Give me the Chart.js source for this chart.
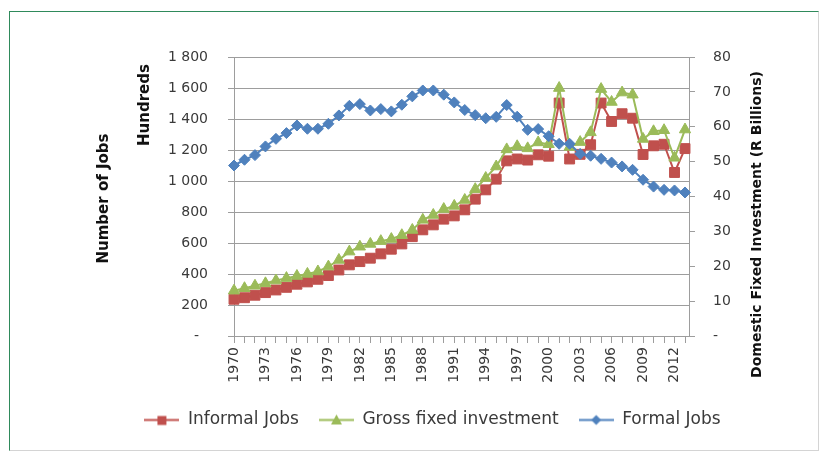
<!DOCTYPE html>
<html lang="en">
<head>
<meta charset="UTF-8">
<title>Informal Jobs, Formal Jobs and Gross Fixed Investment</title>
<script src="https://cdn.jsdelivr.net/npm/chart.js"></script>
<style>
  body { margin: 0; background: #fff; }
  #wrap { position: relative; width: 825px; height: 456px; }
  #jobsChart { display: block; }
  #frame {
    position: absolute; left: 9px; top: 11px; width: 808px; height: 438px;
    border-left: 1px solid #2f8a5b; border-top: 1px solid #2f8a5b;
    border-right: 1px solid #d4d4d4; border-bottom: 1px solid #d4d4d4;
    pointer-events: none;
  }
</style>
</head>
<body>
<div id="wrap">
  <canvas id="jobsChart" width="825" height="456"></canvas>
  <div id="frame"></div>
</div>
<script>
const years = [1970, 1971, 1972, 1973, 1974, 1975, 1976, 1977, 1978, 1979,
               1980, 1981, 1982, 1983, 1984, 1985, 1986, 1987, 1988, 1989,
               1990, 1991, 1992, 1993, 1994, 1995, 1996, 1997, 1998, 1999,
               2000, 2001, 2002, 2003, 2004, 2005, 2006, 2007, 2008, 2009,
               2010, 2011, 2012, 2013];

// hundreds of jobs (left axis)
const informalJobs = [237, 247, 263, 280, 297, 314, 334, 349, 366, 390,
                      426, 459, 480, 502, 530, 560, 594, 641, 685, 717,
                      754, 775, 814, 883, 943, 1012, 1130, 1142, 1135, 1169,
                      1160, 1503, 1142, 1172, 1234, 1503, 1384, 1434, 1405, 1171,
                      1227, 1237, 1055, 1209];

const formalJobs = [1100, 1137, 1167, 1223, 1272, 1309, 1358, 1337, 1337, 1369,
                    1423, 1485, 1496, 1455, 1464, 1449, 1492, 1546, 1584, 1584,
                    1557, 1507, 1458, 1425, 1405, 1414, 1490, 1415, 1330, 1335,
                    1289, 1240, 1240, 1175, 1163, 1143, 1119, 1094, 1072, 1008,
                    964, 943, 939, 926];

// R billions (right axis)
const grossInvestment = [13.0, 13.7, 14.4, 15.1, 15.9, 16.6, 17.2, 17.8, 18.5, 19.9,
                         21.8, 24.2, 25.6, 26.4, 27.2, 27.8, 28.9, 30.4, 33.3, 34.7,
                         36.4, 37.3, 39.0, 42.1, 45.3, 48.6, 53.5, 54.4, 53.8, 55.5,
                         55.0, 71.1, 54.2, 55.6, 58.4, 70.8, 67.1, 69.8, 69.2, 56.5,
                         58.7, 59.0, 51.1, 59.2];

const seriesNames = ['Informal Jobs', 'Gross fixed investment', 'Formal Jobs'];
const red = '#c0504d', green = '#9bbb59', blue = '#4f81bd';
const textColor = '#3a3a3a';
const gridColor = '#9d9d9d';

const toPoints = arr => years.map((y, i) => ({ x: y, y: arr[i] }));

function spaced(v) {
    return String(v).replace(/\B(?=(\d{3})+(?!\d))/g, ' ');
}

// little legend pictures: a line with the marker in the middle
function legendIcon(color, shape) {
    const c = document.createElement('canvas');
    c.width = 35; c.height = 17;
    const g = c.getContext('2d');
    g.strokeStyle = color; g.fillStyle = color; g.lineWidth = 2;
    g.beginPath(); g.moveTo(0, 8.5); g.lineTo(35, 8.5); g.stroke();
    g.beginPath();
    if (shape === 'rect') {
        g.rect(13, 4.5, 9, 9);
    } else if (shape === 'triangle') {
        g.moveTo(17.5, 3); g.lineTo(23, 13); g.lineTo(12, 13); g.closePath();
    } else {
        g.moveTo(17.5, 3.5); g.lineTo(22.5, 8.5); g.lineTo(17.5, 13.5); g.lineTo(12.5, 8.5); g.closePath();
    }
    g.fill();
    return c;
}
const legendIcons = [legendIcon(red, 'rect'), legendIcon(green, 'triangle'), legendIcon(blue, 'rectRot')];

const axisTitles = {
    id: 'axisTitles',
    afterDraw(chart) {
        const ctx = chart.ctx;
        const area = chart.chartArea;
        const mid = (area.top + area.bottom) / 2;
        const put = (text, x, y, size) => {
            ctx.save();
            ctx.translate(x, y);
            ctx.rotate(-Math.PI / 2);
            ctx.font = 'bold ' + size + 'px "DejaVu Sans"';
            ctx.fillStyle = '#111';
            ctx.textAlign = 'center';
            ctx.textBaseline = 'middle';
            ctx.fillText(text, 0, 0);
            ctx.restore();
        };
        put('Number of Jobs', area.left - 130, mid + 2, 15);
        put('Hundreds', area.left - 89, area.top + 48, 15);
        put('Domestic Fixed Investment (R Billions)', area.right + 68, mid + 28, 14);
    }
};

const ctx = document.getElementById('jobsChart').getContext('2d');

new Chart(ctx, {
    type: 'line',
    data: {
        datasets: [
            {
                label: seriesNames[0],
                data: toPoints(informalJobs),
                yAxisID: 'y',
                borderColor: red,
                backgroundColor: red,
                borderWidth: 2,
                pointStyle: 'rect',
                pointRadius: 7,
                pointBorderWidth: 1,
                pointBorderColor: red,
                pointBackgroundColor: red,
                order: 3,
                clip: false
            },
            {
                label: seriesNames[1],
                data: toPoints(grossInvestment),
                yAxisID: 'y2',
                borderColor: green,
                backgroundColor: green,
                borderWidth: 2,
                pointStyle: 'triangle',
                pointRadius: 6.5,
                pointBorderWidth: 1,
                pointBorderColor: green,
                pointBackgroundColor: green,
                order: 2,
                clip: false
            },
            {
                label: seriesNames[2],
                data: toPoints(formalJobs),
                yAxisID: 'y',
                borderColor: blue,
                backgroundColor: blue,
                borderWidth: 2,
                pointStyle: 'rectRot',
                pointRadius: 5.5,
                pointBorderWidth: 1,
                pointBorderColor: blue,
                pointBackgroundColor: blue,
                order: 1,
                clip: false
            }
        ]
    },
    options: {
        responsive: false,
        animation: false,
        layout: { padding: { left: 40, right: 0, top: 57, bottom: 17.5 } },
        plugins: {
            tooltip: { enabled: false },
            legend: {
                position: 'bottom',
                labels: {
                    usePointStyle: true,
                    pointStyleWidth: 35,
                    boxHeight: 17,
                    padding: 20,
                    color: textColor,
                    font: { family: 'DejaVu Sans', size: 17 },
                    sort: (a, b) => a.datasetIndex - b.datasetIndex,
                    generateLabels: chart => {
                        const items = Chart.defaults.plugins.legend.labels.generateLabels(chart);
                        items.forEach(it => { it.pointStyle = legendIcons[it.datasetIndex]; });
                        return items;
                    }
                }
            }
        },
        scales: {
            x: {
                type: 'linear',
                min: 1970,
                max: 2013.38,
                afterBuildTicks: s => { s.ticks = years.map(v => ({ value: v })); },
                afterFit: s => { s.height = 55.5; },
                ticks: {
                    autoSkip: false,
                    minRotation: 90,
                    maxRotation: 90,
                    padding: 4,
                    color: textColor,
                    font: { family: 'DejaVu Sans', size: 14 },
                    callback: v => ((v - 1970) % 3 === 0 ? String(v) : '')
                },
                grid: { drawOnChartArea: false, tickLength: 7, color: gridColor },
                border: { color: gridColor }
            },
            y: {
                position: 'left',
                min: 0,
                max: 1800,
                afterFit: s => { s.width = 194; },
                ticks: {
                    stepSize: 200,
                    padding: 20,
                    color: textColor,
                    font: { family: 'DejaVu Sans', size: 14 },
                    callback: v => (v === 0 ? '-  ' : spaced(v))
                },
                grid: { color: gridColor, tickLength: 6 },
                border: { color: gridColor }
            },
            y2: {
                position: 'right',
                min: 0,
                max: 80,
                afterFit: s => { s.width = 136; },
                ticks: {
                    stepSize: 10,
                    padding: 18,
                    color: textColor,
                    font: { family: 'DejaVu Sans', size: 14 },
                    callback: v => (v === 0 ? '-' : String(v))
                },
                grid: { drawOnChartArea: false, color: gridColor, tickLength: 6 },
                border: { color: gridColor }
            }
        }
    },
    plugins: [axisTitles]
});
</script>
</body>
</html>
